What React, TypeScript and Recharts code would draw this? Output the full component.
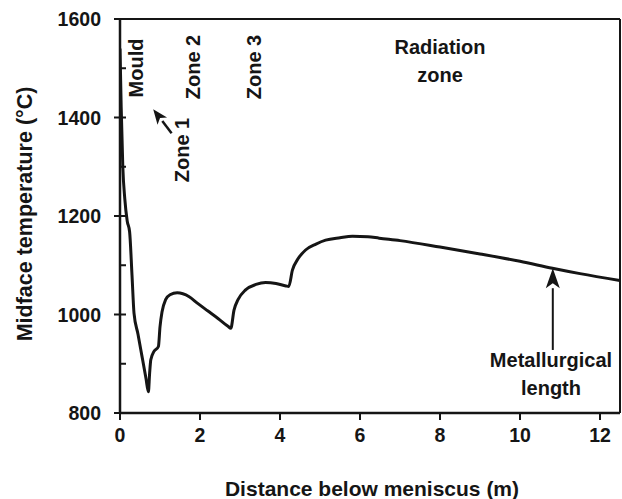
import { LineChart, Line, XAxis, YAxis, ReferenceLine } from 'recharts';

// distance below meniscus (m)
const distance = [
  0, 0.03, 0.07, 0.12, 0.18, 0.24, 0.3, 0.35, 0.45, 0.55, 0.65, 0.71, 0.74, 0.77, 0.85, 0.96,
  1.0, 1.05, 1.14, 1.25, 1.43, 1.73, 1.95, 2.2, 2.45, 2.7, 2.77, 2.85, 2.95, 3.14, 3.4, 3.64, 3.9, 4.15,
  4.22, 4.31, 4.45, 4.64, 4.9, 5.14, 5.5, 5.81, 6.2, 6.48, 7, 8, 9, 10, 10.81, 11.5, 12.5,
];
// midface temperature (°C)
const temperature = [
  1540, 1420, 1300, 1235, 1190, 1168, 1080, 1003, 960, 915, 870, 843, 880, 908, 925, 935,
  975, 1005, 1030, 1040, 1044, 1036, 1022, 1007, 992, 976, 972, 1009, 1030, 1050, 1061, 1065, 1063, 1058,
  1057, 1090, 1113, 1131, 1143, 1151, 1156, 1159, 1158, 1155, 1150, 1137, 1123, 1108, 1094, 1083, 1069,
];

const xTicks = [0, 2, 4, 6, 8, 10, 12];
const yTicks = [800, 900, 1000, 1100, 1200, 1300, 1400, 1500, 1600];
const yLabels = [800, 1000, 1200, 1400, 1600];

const data = distance.map((d, i) => ({ distance: d, temp: temperature[i] }));

const FONT = '"Liberation Sans", Arial, Helvetica, sans-serif';
const INK = '#151515';

function YTick(props: any) {
  const { x, y, payload } = props;
  const axisX = x + 19;
  const major = yLabels.includes(payload.value);
  return (
    <g>
      <line x1={major ? axisX - 6 : axisX} x2={axisX + 6} y1={y} y2={y} stroke={INK} strokeWidth={2} />
      {major && (
        <text x={x} y={y} dy="0.36em" textAnchor="end" fontFamily={FONT} fontSize={19.5} fontWeight="bold" fill={INK}>
          {payload.value}
        </text>
      )}
    </g>
  );
}

// line with a filled head at its second point
const arrow = (head: number, half: number, width: number) => (p: any) => {
  const { x1, y1, x2, y2 } = p;
  const len = Math.hypot(x2 - x1, y2 - y1) || 1;
  const ux = (x2 - x1) / len;
  const uy = (y2 - y1) / len;
  const bx = x2 - ux * head;
  const by = y2 - uy * head;
  const pts = `${x2},${y2} ${bx - uy * half},${by + ux * half} ${bx + ux * head * 0.25},${by + uy * head * 0.25} ${bx + uy * half},${by - ux * half}`;
  return (
    <g>
      <line x1={x1} y1={y1} x2={bx} y2={by} stroke={INK} strokeWidth={width} />
      <polygon points={pts} fill={INK} />
    </g>
  );
};

const textStyle = { fontFamily: FONT, fontWeight: 'bold' as const, fill: INK };

export default function App() {
  return (
    <div style={{ position: 'absolute', left: 0, top: 0, width: 622, height: 499, background: '#fff' }}>
      <LineChart width={622} height={499} data={data} margin={{ top: 19, right: 2, bottom: 46, left: 0 }}>
        <XAxis
          dataKey="distance"
          type="number"
          domain={[0, 12.5]}
          ticks={xTicks}
          allowDataOverflow
          height={40}
          tickSize={7}
          tickMargin={8}
          axisLine={{ stroke: INK, strokeWidth: 2.5 }}
          tickLine={{ stroke: INK, strokeWidth: 2 }}
          tick={{ fill: INK, fontSize: 19.5, fontFamily: FONT, fontWeight: 'bold' }}
        />
        <YAxis
          type="number"
          domain={[800, 1600]}
          ticks={yTicks}
          interval={0}
          width={120}
          tickSize={0}
          tickMargin={19}
          tickLine={false}
          axisLine={{ stroke: INK, strokeWidth: 2.5 }}
          tick={<YTick />}
        />
        <ReferenceLine y={1600} stroke={INK} strokeWidth={2} ifOverflow="visible" />
        <ReferenceLine x={12.5} stroke={INK} strokeWidth={2} ifOverflow="visible" />
        <ReferenceLine
          segment={[{ x: 1.29, y: 1368 }, { x: 0.83, y: 1417 }]}
          ifOverflow="visible"
          shape={arrow(15, 6, 2.5)}
        />
        <ReferenceLine
          segment={[{ x: 10.82, y: 928 }, { x: 10.82, y: 1094 }]}
          ifOverflow="visible"
          shape={arrow(20, 7, 2)}
        />
        <Line
          dataKey="temp"
          type="monotone"
          stroke={INK}
          strokeWidth={3}
          dot={false}
          isAnimationActive={false}
        />
      </LineChart>
      <svg width={622} height={499} style={{ position: 'absolute', left: 0, top: 0, pointerEvents: 'none' }}>
        <text {...textStyle} fontSize={20} textAnchor="middle" dy="0.36em" transform="translate(136,68) rotate(-90)">Mould</text>
        <text {...textStyle} fontSize={20} textAnchor="middle" dy="0.36em" transform="translate(193,67) rotate(-90)">Zone 2</text>
        <text {...textStyle} fontSize={20} textAnchor="middle" dy="0.36em" transform="translate(254,67) rotate(-90)">Zone 3</text>
        <text {...textStyle} fontSize={20} textAnchor="middle" dy="0.36em" transform="translate(182,150) rotate(-90)">Zone 1</text>
        <text {...textStyle} fontSize={20} textAnchor="middle" x={440} y={47} dy="0.36em">Radiation</text>
        <text {...textStyle} fontSize={20} textAnchor="middle" x={440} y={75} dy="0.36em">zone</text>
        <text {...textStyle} fontSize={20} textAnchor="middle" x={551} y={360} dy="0.36em">Metallurgical</text>
        <text {...textStyle} fontSize={20} textAnchor="middle" x={551} y={388} dy="0.36em">length</text>
        <text {...textStyle} fontSize={21.5} textAnchor="middle" dy="0.36em" transform="translate(24,214) rotate(-90)">Midface temperature (°C)</text>
        <text {...textStyle} fontSize={21} textAnchor="middle" x={372} y={488} dy="0.36em">Distance below meniscus (m)</text>
      </svg>
    </div>
  );
}
